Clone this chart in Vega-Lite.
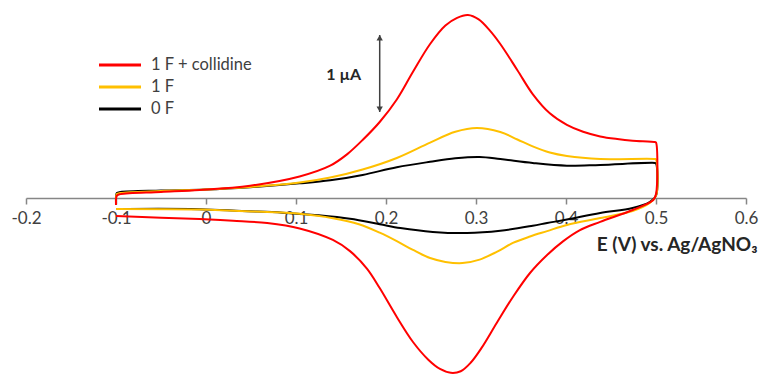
{
  "$schema": "https://vega.github.io/schema/vega-lite/v6.json",
  "width": 720,
  "height": 375,
  "autosize": {"type": "none"},
  "padding": {"left": 26, "right": 14, "top": 0, "bottom": 0},
  "background": "white",
  "config": {"view": {"stroke": null}, "font": "Lato"},
  "layer": [
    {
      "data": {"values": [
        {"s":"0 F","i":0,"v":-0.1,"c":-0.04},
        {"s":"0 F","i":1,"v":-0.099,"c":0.065},
        {"s":"0 F","i":2,"v":-0.095,"c":0.078},
        {"s":"0 F","i":3,"v":-0.05,"c":0.097},
        {"s":"0 F","i":4,"v":0,"c":0.11},
        {"s":"0 F","i":5,"v":0.049,"c":0.14},
        {"s":"0 F","i":6,"v":0.104,"c":0.19},
        {"s":"0 F","i":7,"v":0.138,"c":0.23},
        {"s":"0 F","i":8,"v":0.174,"c":0.3},
        {"s":"0 F","i":9,"v":0.212,"c":0.4},
        {"s":"0 F","i":10,"v":0.249,"c":0.47},
        {"s":"0 F","i":11,"v":0.277,"c":0.515},
        {"s":"0 F","i":12,"v":0.304,"c":0.532},
        {"s":"0 F","i":13,"v":0.327,"c":0.506},
        {"s":"0 F","i":14,"v":0.363,"c":0.455},
        {"s":"0 F","i":15,"v":0.401,"c":0.42},
        {"s":"0 F","i":16,"v":0.438,"c":0.43},
        {"s":"0 F","i":17,"v":0.499,"c":0.455},
        {"s":"0 F","i":18,"v":0.5,"c":0.45},
        {"s":"0 F","i":19,"v":0.5,"c":0.03},
        {"s":"0 F","i":20,"v":0.493,"c":-0.052},
        {"s":"0 F","i":21,"v":0.474,"c":-0.13},
        {"s":"0 F","i":22,"v":0.438,"c":-0.195},
        {"s":"0 F","i":23,"v":0.401,"c":-0.28},
        {"s":"0 F","i":24,"v":0.379,"c":-0.325},
        {"s":"0 F","i":25,"v":0.363,"c":-0.36},
        {"s":"0 F","i":26,"v":0.327,"c":-0.425},
        {"s":"0 F","i":27,"v":0.29,"c":-0.455},
        {"s":"0 F","i":28,"v":0.252,"c":-0.44},
        {"s":"0 F","i":29,"v":0.216,"c":-0.39},
        {"s":"0 F","i":30,"v":0.193,"c":-0.34},
        {"s":"0 F","i":31,"v":0.16,"c":-0.27},
        {"s":"0 F","i":32,"v":0.125,"c":-0.225},
        {"s":"0 F","i":33,"v":0.085,"c":-0.19},
        {"s":"0 F","i":34,"v":0.04,"c":-0.169},
        {"s":"0 F","i":35,"v":-0.007,"c":-0.145},
        {"s":"0 F","i":36,"v":-0.1,"c":-0.143},

        {"s":"1 F","i":0,"v":-0.1,"c":-0.052},
        {"s":"1 F","i":1,"v":-0.099,"c":0.052},
        {"s":"1 F","i":2,"v":-0.095,"c":0.065},
        {"s":"1 F","i":3,"v":-0.05,"c":0.091},
        {"s":"1 F","i":4,"v":0,"c":0.11},
        {"s":"1 F","i":5,"v":0.049,"c":0.143},
        {"s":"1 F","i":6,"v":0.104,"c":0.2},
        {"s":"1 F","i":7,"v":0.138,"c":0.265},
        {"s":"1 F","i":8,"v":0.174,"c":0.37},
        {"s":"1 F","i":9,"v":0.212,"c":0.52},
        {"s":"1 F","i":10,"v":0.249,"c":0.72},
        {"s":"1 F","i":11,"v":0.277,"c":0.86},
        {"s":"1 F","i":12,"v":0.301,"c":0.909},
        {"s":"1 F","i":13,"v":0.327,"c":0.857},
        {"s":"1 F","i":14,"v":0.346,"c":0.76},
        {"s":"1 F","i":15,"v":0.363,"c":0.67},
        {"s":"1 F","i":16,"v":0.382,"c":0.59},
        {"s":"1 F","i":17,"v":0.401,"c":0.545},
        {"s":"1 F","i":18,"v":0.438,"c":0.506},
        {"s":"1 F","i":19,"v":0.499,"c":0.506},
        {"s":"1 F","i":20,"v":0.5,"c":0.5},
        {"s":"1 F","i":21,"v":0.5,"c":0.03},
        {"s":"1 F","i":22,"v":0.493,"c":-0.065},
        {"s":"1 F","i":23,"v":0.474,"c":-0.169},
        {"s":"1 F","i":24,"v":0.438,"c":-0.26},
        {"s":"1 F","i":25,"v":0.401,"c":-0.35},
        {"s":"1 F","i":26,"v":0.379,"c":-0.43},
        {"s":"1 F","i":27,"v":0.36,"c":-0.5},
        {"s":"1 F","i":28,"v":0.341,"c":-0.584},
        {"s":"1 F","i":29,"v":0.323,"c":-0.7},
        {"s":"1 F","i":30,"v":0.304,"c":-0.8},
        {"s":"1 F","i":31,"v":0.285,"c":-0.845},
        {"s":"1 F","i":32,"v":0.266,"c":-0.83},
        {"s":"1 F","i":33,"v":0.249,"c":-0.78},
        {"s":"1 F","i":34,"v":0.23,"c":-0.675},
        {"s":"1 F","i":35,"v":0.212,"c":-0.56},
        {"s":"1 F","i":36,"v":0.193,"c":-0.45},
        {"s":"1 F","i":37,"v":0.17,"c":-0.34},
        {"s":"1 F","i":38,"v":0.141,"c":-0.262},
        {"s":"1 F","i":39,"v":0.104,"c":-0.205},
        {"s":"1 F","i":40,"v":0.068,"c":-0.182},
        {"s":"1 F","i":41,"v":0.03,"c":-0.167},
        {"s":"1 F","i":42,"v":-0.007,"c":-0.15},
        {"s":"1 F","i":43,"v":-0.1,"c":-0.143},

        {"s":"1 F + collidine","i":0,"v":-0.1,"c":-0.09},
        {"s":"1 F + collidine","i":1,"v":-0.099,"c":0.03},
        {"s":"1 F + collidine","i":2,"v":-0.095,"c":0.05},
        {"s":"1 F + collidine","i":3,"v":-0.05,"c":0.078},
        {"s":"1 F + collidine","i":4,"v":-0.007,"c":0.104},
        {"s":"1 F + collidine","i":5,"v":0.049,"c":0.16},
        {"s":"1 F + collidine","i":6,"v":0.104,"c":0.28},
        {"s":"1 F + collidine","i":7,"v":0.138,"c":0.42},
        {"s":"1 F + collidine","i":8,"v":0.157,"c":0.57},
        {"s":"1 F + collidine","i":9,"v":0.174,"c":0.753},
        {"s":"1 F + collidine","i":10,"v":0.193,"c":0.987},
        {"s":"1 F + collidine","i":11,"v":0.212,"c":1.28},
        {"s":"1 F + collidine","i":12,"v":0.23,"c":1.64},
        {"s":"1 F + collidine","i":13,"v":0.249,"c":2.0},
        {"s":"1 F + collidine","i":14,"v":0.266,"c":2.24},
        {"s":"1 F + collidine","i":15,"v":0.279,"c":2.34},
        {"s":"1 F + collidine","i":16,"v":0.291,"c":2.377},
        {"s":"1 F + collidine","i":17,"v":0.303,"c":2.32},
        {"s":"1 F + collidine","i":18,"v":0.315,"c":2.18},
        {"s":"1 F + collidine","i":19,"v":0.327,"c":2.0},
        {"s":"1 F + collidine","i":20,"v":0.346,"c":1.66},
        {"s":"1 F + collidine","i":21,"v":0.363,"c":1.35},
        {"s":"1 F + collidine","i":22,"v":0.382,"c":1.1},
        {"s":"1 F + collidine","i":23,"v":0.401,"c":0.95},
        {"s":"1 F + collidine","i":24,"v":0.419,"c":0.86},
        {"s":"1 F + collidine","i":25,"v":0.438,"c":0.8},
        {"s":"1 F + collidine","i":26,"v":0.457,"c":0.766},
        {"s":"1 F + collidine","i":27,"v":0.474,"c":0.745},
        {"s":"1 F + collidine","i":28,"v":0.499,"c":0.727},
        {"s":"1 F + collidine","i":29,"v":0.5,"c":0.72},
        {"s":"1 F + collidine","i":30,"v":0.5,"c":0.05},
        {"s":"1 F + collidine","i":31,"v":0.497,"c":-0.026},
        {"s":"1 F + collidine","i":32,"v":0.474,"c":-0.156},
        {"s":"1 F + collidine","i":33,"v":0.438,"c":-0.31},
        {"s":"1 F + collidine","i":34,"v":0.415,"c":-0.42},
        {"s":"1 F + collidine","i":35,"v":0.397,"c":-0.56},
        {"s":"1 F + collidine","i":36,"v":0.379,"c":-0.74},
        {"s":"1 F + collidine","i":37,"v":0.36,"c":-0.974},
        {"s":"1 F + collidine","i":38,"v":0.341,"c":-1.286},
        {"s":"1 F + collidine","i":39,"v":0.323,"c":-1.623},
        {"s":"1 F + collidine","i":40,"v":0.306,"c":-1.95},
        {"s":"1 F + collidine","i":41,"v":0.294,"c":-2.14},
        {"s":"1 F + collidine","i":42,"v":0.283,"c":-2.25},
        {"s":"1 F + collidine","i":43,"v":0.272,"c":-2.27},
        {"s":"1 F + collidine","i":44,"v":0.26,"c":-2.22},
        {"s":"1 F + collidine","i":45,"v":0.247,"c":-2.1},
        {"s":"1 F + collidine","i":46,"v":0.23,"c":-1.87},
        {"s":"1 F + collidine","i":47,"v":0.212,"c":-1.545},
        {"s":"1 F + collidine","i":48,"v":0.193,"c":-1.17},
        {"s":"1 F + collidine","i":49,"v":0.179,"c":-0.92},
        {"s":"1 F + collidine","i":50,"v":0.16,"c":-0.69},
        {"s":"1 F + collidine","i":51,"v":0.141,"c":-0.545},
        {"s":"1 F + collidine","i":52,"v":0.104,"c":-0.395},
        {"s":"1 F + collidine","i":53,"v":0.068,"c":-0.325},
        {"s":"1 F + collidine","i":54,"v":0.03,"c":-0.295},
        {"s":"1 F + collidine","i":55,"v":-0.007,"c":-0.273},
        {"s":"1 F + collidine","i":56,"v":-0.05,"c":-0.255},
        {"s":"1 F + collidine","i":57,"v":-0.1,"c":-0.234}
      ]},
      "mark": {"type": "line", "interpolate": "catmull-rom", "strokeWidth": 2},
      "encoding": {
        "x": {
          "field": "v", "type": "quantitative",
          "scale": {"domain": [-0.2, 0.6], "nice": false, "zero": false},
          "axis": {
            "values": [-0.2, -0.1, 0, 0.1, 0.2, 0.3, 0.4, 0.5, 0.6],
            "labelExpr": "'' + datum.value",
            "offset": -177,
            "grid": false,
            "domainColor": "#868686", "domainWidth": 1.5,
            "tickColor": "#868686", "tickWidth": 1.5, "tickSize": 6,
            "labelFont": "Lato", "labelFontSize": 17, "labelColor": "#404040",
            "labelPadding": 6, "labelFlush": false,
            "title": "E (V) vs. Ag/AgNO₃",
            "titleFont": "Lato", "titleFontSize": 19, "titleFontWeight": "bold",
            "titleColor": "#262626",
            "titleX": 731, "titleY": 52, "titleAlign": "right", "titleBaseline": "alphabetic", "titleAnchor": null
          }
        },
        "y": {
          "field": "c", "type": "quantitative",
          "scale": {"domain": [-2.2987, 2.5714], "nice": false, "zero": false},
          "axis": null
        },
        "color": {
          "field": "s", "type": "nominal",
          "scale": {"domain": ["1 F + collidine", "1 F", "0 F"], "range": ["#FF0000", "#FFC000", "#000000"]},
          "legend": {
            "orient": "none", "legendX": 82, "legendY": 53, "title": null,
            "symbolType": "M-2,0H2", "symbolSize": 441, "symbolStrokeWidth": 3,
            "labelFont": "Lato", "labelFontSize": 16.5, "labelColor": "#404040",
            "rowPadding": 1, "labelOffset": 19, "padding": 0
          }
        },
        "order": {"field": "i", "type": "quantitative"}
      }
    },
    {
      "data": {"values": [{"v": 0.193, "c": 1.117, "c2": 2.117}]},
      "mark": {"type": "rule", "color": "#404040", "strokeWidth": 1.5},
      "encoding": {
        "x": {"field": "v", "type": "quantitative"},
        "y": {"field": "c", "type": "quantitative"},
        "y2": {"field": "c2"}
      }
    },
    {
      "data": {"values": [{"v": 0.193, "c": 2.082, "d": "up"}, {"v": 0.193, "c": 1.152, "d": "down"}]},
      "mark": {"type": "point", "filled": true, "size": 40, "color": "#404040", "opacity": 1},
      "encoding": {
        "x": {"field": "v", "type": "quantitative"},
        "y": {"field": "c", "type": "quantitative"},
        "shape": {"field": "d", "type": "nominal", "scale": {"domain": ["up", "down"], "range": ["triangle-up", "triangle-down"]}, "legend": null}
      }
    },
    {
      "data": {"values": [{"v": 0.153, "c": 1.6, "t": "1 µA"}]},
      "mark": {"type": "text", "font": "Lato", "fontSize": 16, "fontWeight": "bold", "color": "#262626", "align": "center", "baseline": "middle"},
      "encoding": {
        "x": {"field": "v", "type": "quantitative"},
        "y": {"field": "c", "type": "quantitative"},
        "text": {"field": "t"}
      }
    }
  ]
}
